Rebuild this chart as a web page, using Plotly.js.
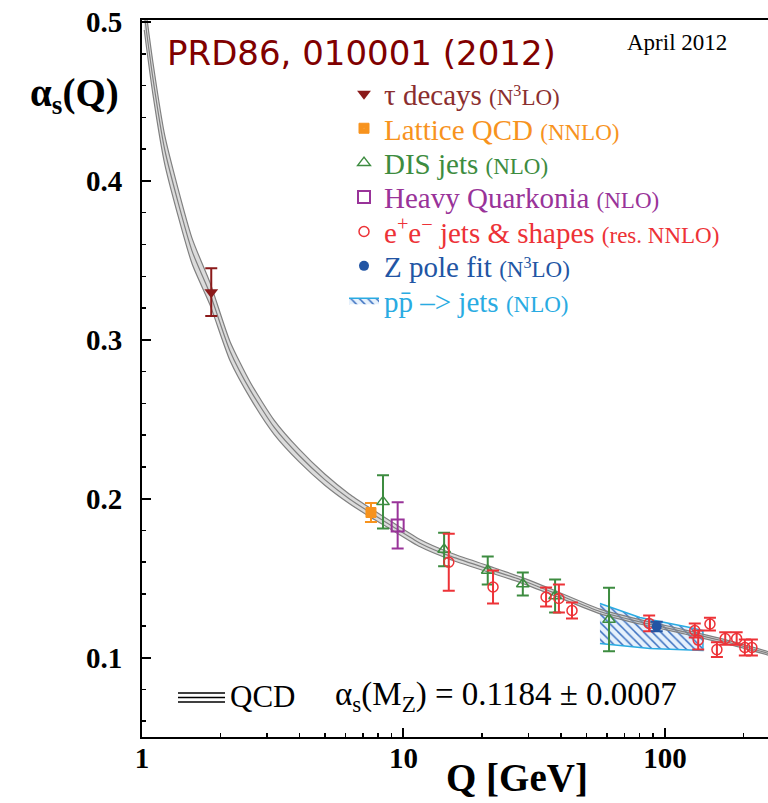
<!DOCTYPE html>
<html>
<head>
<meta charset="utf-8">
<script src="https://cdn.plot.ly/plotly-3.0.1.min.js"></script>
<style>html,body{margin:0;padding:0;background:#fff;}#plot{width:768px;height:803px;}</style>
</head>
<body>
<div id="plot"></div>
<script>
// QCD running curve (central line and band edges)
const curveQ   = [1.02, 1.10, 1.224, 1.553, 1.82, 2.17, 2.6, 3.2, 4.0, 5.0, 6.2, 7.51, 9.0, 11.57, 15, 20.9, 28, 37.3, 56.4, 80, 120, 180, 250];
const curveA   = [0.505, 0.465, 0.419, 0.356, 0.329, 0.293, 0.268, 0.245, 0.227, 0.212, 0.200, 0.191, 0.183, 0.172, 0.164, 0.156, 0.149, 0.141, 0.129, 0.1225, 0.116, 0.109, 0.1025];
const curveHi  = [0.515, 0.475, 0.428, 0.364, 0.336, 0.299, 0.273, 0.2495, 0.231, 0.2155, 0.203, 0.1938, 0.1855, 0.1743, 0.1661, 0.158, 0.1508, 0.1427, 0.1305, 0.1239, 0.1173, 0.1102, 0.1036];
const curveLo  = [0.495, 0.455, 0.410, 0.348, 0.322, 0.287, 0.263, 0.2405, 0.223, 0.2085, 0.197, 0.1882, 0.1805, 0.1697, 0.1619, 0.154, 0.1472, 0.1393, 0.1275, 0.1211, 0.1147, 0.1078, 0.1014];

// tau decays
const tauQ = [1.84], tauA = [0.330], tauErr = [0.015];
// Lattice QCD
const latQ = [7.51], latA = [0.1913], latErr = [0.006];
// DIS jets
const disQ = [8.35, 14.3, 21.0, 28.6, 38.0, 61.1];
const disA = [0.198, 0.168, 0.1548, 0.1463, 0.1387, 0.1239];
const disErr = [0.0167, 0.0105, 0.0088, 0.0072, 0.0104, 0.020];
// Heavy Quarkonia
const hqQ = [9.5], hqA = [0.1832], hqErr = [0.0145];
// e+e- jets & shapes
const eeQ = [14.9, 22.0, 35.1, 39.3, 44.1, 87, 130, 134, 148.6, 158, 170, 188, 202, 215];
const eeA = [0.160, 0.1444, 0.1381, 0.1372, 0.1296, 0.1215, 0.117, 0.111, 0.1211, 0.105, 0.112, 0.112, 0.1063, 0.1063];
const eeErr = [0.018, 0.0104, 0.006, 0.0088, 0.005, 0.005, 0.0044, 0.006, 0.004, 0.0047, 0.004, 0.004, 0.005, 0.005];
// Z pole fit
const zQ = [93], zA = [0.1195], zErr = [0.003];
// p pbar -> jets band (upper and lower edges)
const ppQTop = [56.4, 80.2, 124.6, 139.7];
const ppATop = [0.134, 0.1252, 0.1189, 0.117];
const ppQBot = [56.4, 87.6, 139.7];
const ppABot = [0.1088, 0.1057, 0.1044];

const serif = 'Liberation Serif, Times New Roman, serif';
function nm(main, sub, col) {
  return "<span style='color:" + col + "'>" + main + "</span> <span style='font-size:23px;color:" + col + "'>" + sub + "</span>";
}
function errb(arr, col) { return {type:'data', array:arr, visible:true, color:col, thickness:2, width:6}; }

const ppX = ppQTop.concat(ppQBot.slice().reverse());
const ppY = ppATop.concat(ppABot.slice().reverse());

const traces = [
  {x: ppX, y: ppY, type:'scatter', mode:'lines', fill:'toself', line:{color:'#29abe2', width:1.5},
   fillcolor:'rgba(230,240,252,0.6)', fillpattern:{shape:'\\', fgcolor:'#3a6fc0', bgcolor:'rgba(228,240,252,0.9)', size:6, solidity:0.25},
   name: nm('pp\u0304 \u2013> jets', '(NLO)', '#29abe2'), legend:'legend7', hoverinfo:'skip'},
  {x: curveQ, y: curveLo, type:'scatter', mode:'lines', line:{color:'#808080', width:1.2, shape:'spline', smoothing:0.6}, showlegend:false, hoverinfo:'skip'},
  {x: curveQ, y: curveHi, type:'scatter', mode:'lines', line:{color:'#808080', width:1.2, shape:'spline', smoothing:0.6}, fill:'tonexty', fillcolor:'rgba(165,165,165,0.4)', showlegend:false, hoverinfo:'skip'},
  {x: curveQ, y: curveA, type:'scatter', mode:'lines', line:{color:'#808080', width:1.2, shape:'spline', smoothing:0.6}, showlegend:false, hoverinfo:'skip'},
  {x: tauQ, y: tauA, type:'scatter', mode:'markers', marker:{symbol:'triangle-down', size:12, color:'#8b1a1a'}, error_y: errb(tauErr, '#8b1a1a'),
   name: nm('\u03c4 decays', '(N<sup>3</sup>LO)', '#8b2e2e'), legend:'legend'},
  {x: latQ, y: latA, type:'scatter', mode:'markers', marker:{symbol:'square-dot', size:10, color:'#f7931e', line:{color:'#f7931e', width:1}}, error_y: errb(latErr, '#f7931e'),
   name: nm('Lattice QCD', '(NNLO)', '#f7931e'), legend:'legend2'},
  {x: disQ, y: disA, type:'scatter', mode:'markers', marker:{symbol:'triangle-up-open', size:11, color:'#3d8c40', line:{width:1.5}}, error_y: errb(disErr, '#3d8c40'),
   name: nm('DIS jets', '(NLO)', '#3d8c40'), legend:'legend3'},
  {x: hqQ, y: hqA, type:'scatter', mode:'markers', marker:{symbol:'square-open', size:12, color:'#993399', line:{width:2}}, error_y: errb(hqErr, '#993399'),
   name: nm('Heavy Quarkonia', '(NLO)', '#993399'), legend:'legend4'},
  {x: eeQ, y: eeA, type:'scatter', mode:'markers', marker:{symbol:'circle-open', size:10, color:'#ed3237', line:{width:1.5}}, error_y: errb(eeErr, '#ed3237'),
   name: nm('e<sup>+</sup>e<sup>\u2212</sup> jets &amp; shapes', '(res. NNLO)', '#ed3237'), legend:'legend5'},
  {x: zQ, y: zA, type:'scatter', mode:'markers', marker:{symbol:'circle', size:10, color:'#2255a4'}, error_y: errb(zErr, '#2255a4'),
   name: nm('Z pole fit', '(N<sup>3</sup>LO)', '#2255a4'), legend:'legend6'}
];

// legend row centres (pixels from top) -> paper coordinates
const rowPx = [94, 128.4, 162.8, 197.2, 231.6, 266, 300.4];
function legendAt(px) {
  return {x:0.3227, xanchor:'left', y:(737 - px) / 717, yanchor:'middle', bgcolor:'rgba(0,0,0,0)', borderwidth:0,
          font:{family:serif, size:29, color:'#333'}, tracegroupgap:0};
}

const layout = {
  width: 768, height: 803,
  margin: {l:142, r:0, t:20, b:66},
  paper_bgcolor:'#fff', plot_bgcolor:'#fff',
  showlegend: true,
  legend: legendAt(rowPx[0]), legend2: legendAt(rowPx[1]), legend3: legendAt(rowPx[2]), legend4: legendAt(rowPx[3]),
  legend5: legendAt(rowPx[4]), legend6: legendAt(rowPx[5]), legend7: legendAt(rowPx[6]),
  xaxis: {type:'log', range:[0, 2.394], showgrid:false, zeroline:false, showline:true, linecolor:'#000', linewidth:2, mirror:true,
          ticks:'inside', ticklen:9, tickwidth:2, tickcolor:'#000',
          tickvals:[1,10,100], ticktext:['1','10','100'],
          tickfont:{family:serif, size:29, weight:'bold', color:'#000'}, ticklabelstandoff:-6,
          minor:{ticks:'inside', ticklen:4, tickwidth:1.5, tickcolor:'#000', tickvals:[2,3,4,5,6,7,8,9,20,30,40,50,60,70,80,90,200]}},
  yaxis: {range:[0.05, 0.5013], showgrid:false, zeroline:false, showline:true, linecolor:'#000', linewidth:2,
          ticks:'inside', ticklen:9, tickwidth:2, tickcolor:'#000',
          tickvals:[0.1,0.2,0.3,0.4,0.5], ticktext:['0.1','0.2','0.3','0.4','0.5'],
          tickfont:{family:serif, size:29, weight:'bold', color:'#000'}, ticklabelstandoff:12,
          minor:{ticks:'inside', ticklen:4, tickwidth:1.5, tickcolor:'#000', dtick:0.02}},
  annotations: [
    {text:'<b>\u03b1<sub>s</sub>(Q)</b>', xref:'paper', yref:'paper', x:-0.108, y:0.895, xanchor:'center', yanchor:'middle', showarrow:false,
     font:{family:serif, size:39, color:'#000'}},
    {text:'<b>Q [GeV]</b>', xref:'paper', yref:'paper', x:0.599, y:-0.0558, xanchor:'center', yanchor:'middle', showarrow:false,
     font:{family:serif, size:39, color:'#000'}},
    {text:'PRD86, 010001 (2012)', xref:'paper', yref:'paper', x:0.0367, y:0.954, xanchor:'left', yanchor:'middle', showarrow:false,
     font:{family:'DejaVu Sans, sans-serif', size:34, color:'#800000'}},
    {text:'April 2012', xref:'paper', yref:'paper', x:0.7716, y:0.968, xanchor:'left', yanchor:'middle', showarrow:false,
     font:{family:serif, size:23, color:'#000'}},
    {text:'QCD', xref:'paper', yref:'paper', x:0.1374, y:0.0558, xanchor:'left', yanchor:'middle', showarrow:false,
     font:{family:serif, size:31, color:'#000'}},
    {text:'\u03b1<sub>s</sub>(M<sub>Z</sub>) = 0.1184 \u00b1 0.0007', xref:'paper', yref:'paper', x:0.305, y:0.0558, xanchor:'left', yanchor:'middle', showarrow:false,
     font:{family:serif, size:33, color:'#000'}}
  ],
  shapes: [0.0614, 0.0551, 0.0488].map(v => ({type:'line', xref:'paper', yref:'paper', x0:0.0575, x1:0.1326, y0:v, y1:v, line:{color:'#000', width:1.5}}))
};

Plotly.newPlot('plot', traces, layout, {displayModeBar:false, staticPlot:true});
</script>
</body>
</html>
